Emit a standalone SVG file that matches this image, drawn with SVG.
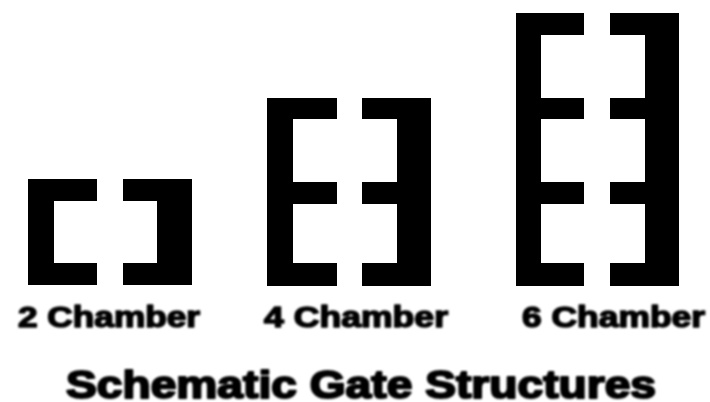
<svg xmlns="http://www.w3.org/2000/svg" width="710" height="402" viewBox="0 0 710 402">
<defs>
<filter id="soft" x="-5%" y="-5%" width="110%" height="110%"><feGaussianBlur stdDeviation="0.6"/></filter>
<filter id="softer" x="-5%" y="-20%" width="110%" height="140%"><feGaussianBlur stdDeviation="0.9"/></filter>
</defs>
<style>
.g{fill:#000;filter:url(#soft)}
.l{font-family:"Liberation Sans",Arial,sans-serif;font-weight:700;fill:#000;stroke:#000;stroke-linejoin:round;filter:url(#softer)}
.s{font-size:29px;stroke-width:1.5px}
.t{font-size:38px;stroke-width:2px}
</style>
<rect width="710" height="402" fill="#fff"/>
<g id="gate-2-chamber">
<path class="g" d="M28 179H97V201H54V263H97V285H28Z"/>
<path class="g" d="M192 179H123V201H157V263H123V285H192Z"/>
<text class="l s" x="18" y="327" textLength="182" lengthAdjust="spacingAndGlyphs">2 Chamber</text>
</g>
<g id="gate-4-chamber">
<path class="g" d="M267 98H337V119H293V182H337V204H293V263H337V286H267Z"/>
<path class="g" d="M431 98H362V119H397V182H362V204H397V263H362V286H431Z"/>
<text class="l s" x="264" y="327" textLength="184" lengthAdjust="spacingAndGlyphs">4 Chamber</text>
</g>
<g id="gate-6-chamber">
<path class="g" d="M516 13H584V35H541V98H584V119H541V182H584V204H541V263H584V286H516Z"/>
<path class="g" d="M679 13H610V35H645V98H610V119H645V182H610V204H645V263H610V286H679Z"/>
<text class="l s" x="522" y="327" textLength="183" lengthAdjust="spacingAndGlyphs">6 Chamber</text>
</g>
<g id="title">
<text class="l t" x="66" y="398" textLength="590" lengthAdjust="spacingAndGlyphs">Schematic Gate Structures</text>
</g>
</svg>
